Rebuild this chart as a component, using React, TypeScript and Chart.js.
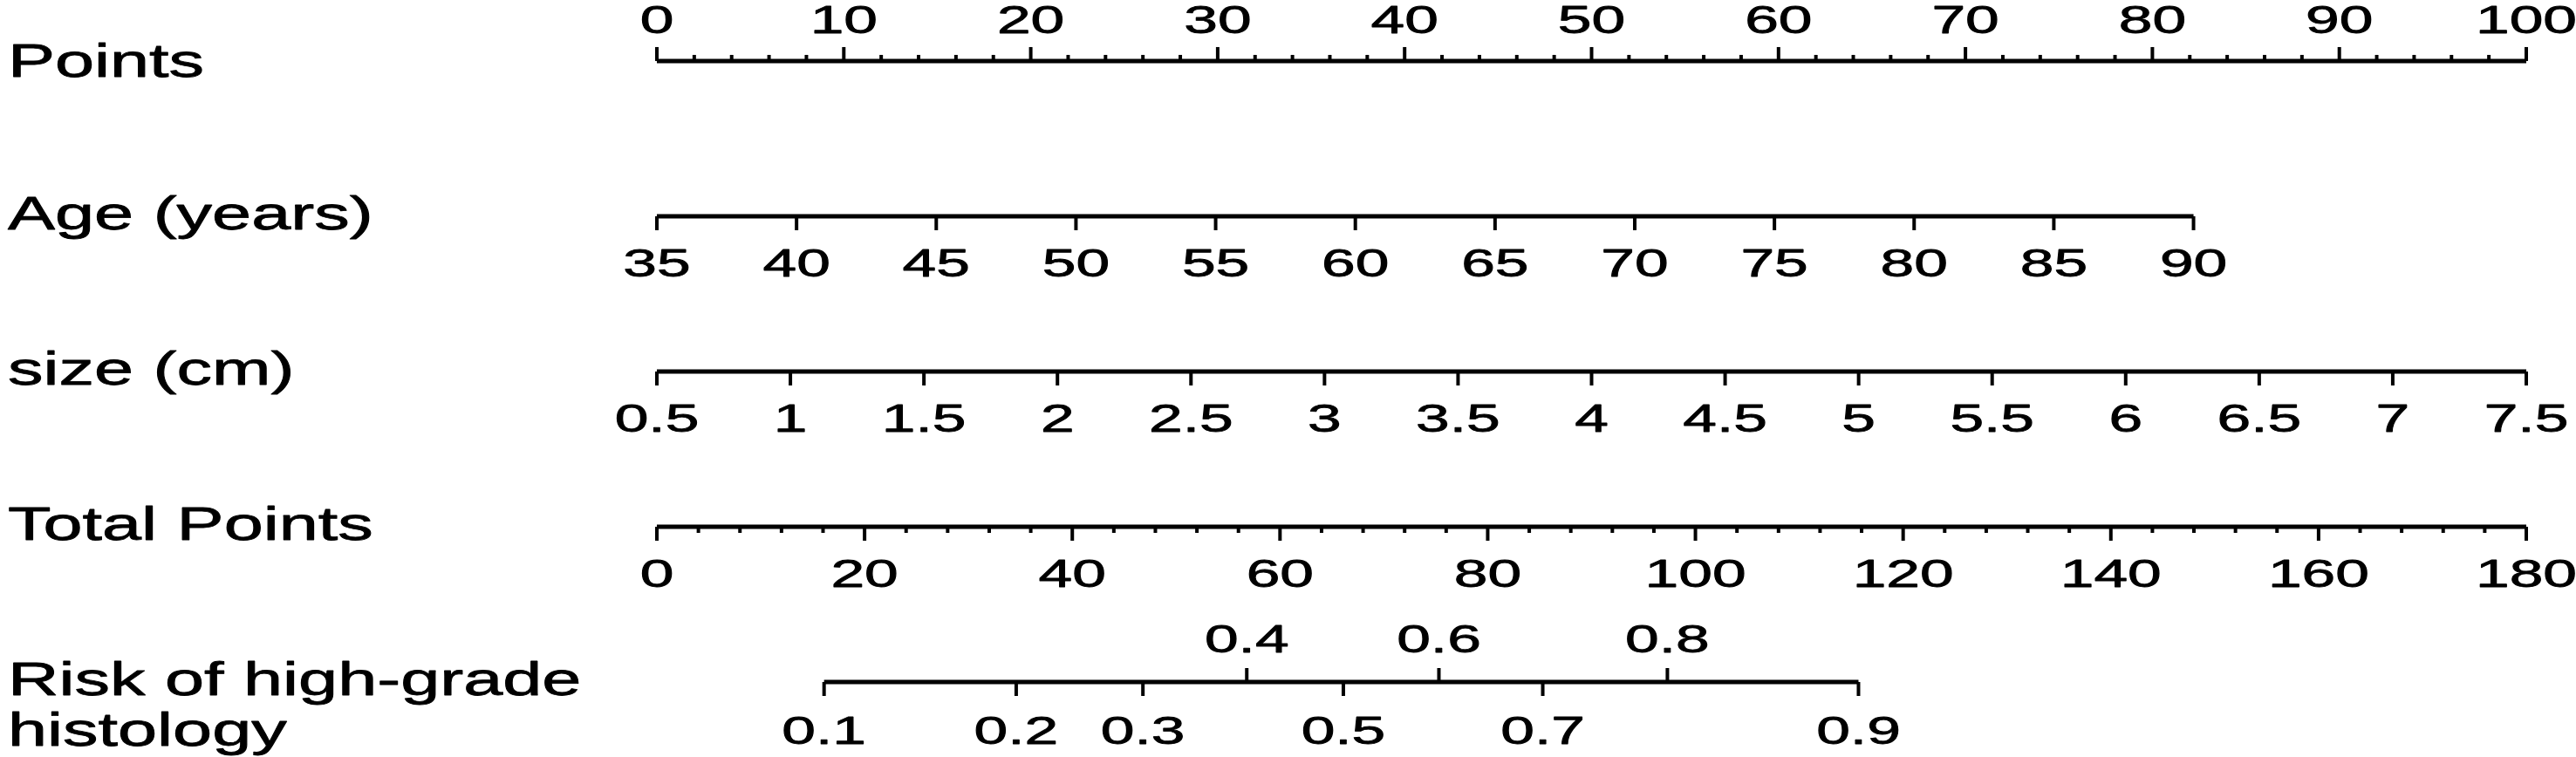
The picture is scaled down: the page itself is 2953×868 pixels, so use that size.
import React, { useEffect, useRef } from "react";
import { Chart, registerables } from "chart.js";

Chart.register(...registerables);

// ---- Data ----
const rowLabels = ["Points", "Age (years)", "size (cm)", "Total Points"];
const riskLabelLines = ["Risk of high-grade", "histology"];

const pointsTicks = [0, 10, 20, 30, 40, 50, 60, 70, 80, 90, 100];
const pointsMinorStep = 2;

const ageTicks = [35, 40, 45, 50, 55, 60, 65, 70, 75, 80, 85, 90];
const ageMin = 35;
const ageMax = 90;
const agePointsAtMax = 82.2; // points for age 90

const sizeTicks = [0.5, 1, 1.5, 2, 2.5, 3, 3.5, 4, 4.5, 5, 5.5, 6, 6.5, 7, 7.5];
const sizeMin = 0.5;
const sizeMax = 7.5;
const sizePointsAtMax = 100;

const totalTicks = [0, 20, 40, 60, 80, 100, 120, 140, 160, 180];
const totalMinorStep = 4;
const totalMax = 180;

const riskTicks = [0.1, 0.2, 0.3, 0.4, 0.5, 0.6, 0.7, 0.8, 0.9];
const riskTotalPoints = [16.1, 34.6, 46.8, 56.8, 66.1, 75.3, 85.3, 97.3, 115.7];
const riskAbove = [0.4, 0.6, 0.8];

// ---- helpers mapping each variable to the Points scale ----
const agePts = (a: number) => ((a - ageMin) / (ageMax - ageMin)) * agePointsAtMax;
const sizePts = (s: number) => ((s - sizeMin) / (sizeMax - sizeMin)) * sizePointsAtMax;
const totalPts = (t: number) => (t / totalMax) * 100;

const TICK_FONT = 44;
const TICK_STRETCH = 1.58;
const LABEL_FONT = 54;
const LABEL_STRETCH = 1.5;
const FONT_FAMILY = '"Liberation Sans", Arial, Helvetica, sans-serif';

function drawText(
  ctx: CanvasRenderingContext2D,
  text: string,
  x: number,
  y: number,
  size: number,
  stretch: number,
  align: CanvasTextAlign
) {
  ctx.save();
  ctx.translate(x, y);
  ctx.scale(stretch, 1);
  ctx.font = `${size}px ${FONT_FAMILY}`;
  ctx.fillStyle = "#000";
  ctx.strokeStyle = "#000";
  ctx.lineWidth = 0.8;
  ctx.lineJoin = "round";
  ctx.textAlign = align;
  ctx.textBaseline = "middle";
  ctx.fillText(text, 0, 0);
  ctx.strokeText(text, 0, 0);
  ctx.restore();
}

const nomogramPlugin = {
  id: "nomogram",
  afterDatasetsDraw(chart: any) {
    const ctx: CanvasRenderingContext2D = chart.ctx;
    const xs = chart.scales.x;
    const ys = chart.scales.y;
    const px = (v: number) => xs.getPixelForValue(v);
    const py = (r: number) => ys.getPixelForValue(r);
    const MAJOR = 16;
    const MINOR = 7;
    const ABOVE = 44;
    const BELOW = 57;

    ctx.save();
    ctx.strokeStyle = "#000";
    ctx.lineCap = "butt";

    const tick = (x: number, y: number, len: number) => {
      ctx.lineWidth = 4;
      ctx.beginPath();
      ctx.moveTo(x, y);
      ctx.lineTo(x, y + len);
      ctx.stroke();
    };

    // Row 0: Points (ticks up, labels above)
    const y0 = py(0);
    for (let v = 0; v <= 100 + 1e-9; v += pointsMinorStep) {
      const isMajor = pointsTicks.includes(Math.round(v));
      tick(px(v), y0, isMajor ? -MAJOR : -MINOR);
    }
    pointsTicks.forEach((v) => drawText(ctx, String(v), px(v), y0 - ABOVE, TICK_FONT, TICK_STRETCH, "center"));

    // Row 1: Age
    const y1 = py(1);
    ageTicks.forEach((a) => {
      tick(px(agePts(a)), y1, MAJOR);
      drawText(ctx, String(a), px(agePts(a)), y1 + BELOW, TICK_FONT, TICK_STRETCH, "center");
    });

    // Row 2: size
    const y2 = py(2);
    sizeTicks.forEach((s) => {
      tick(px(sizePts(s)), y2, MAJOR);
      drawText(ctx, String(s), px(sizePts(s)), y2 + BELOW, TICK_FONT, TICK_STRETCH, "center");
    });

    // Row 3: Total points
    const y3 = py(3);
    for (let t = 0; t <= totalMax + 1e-9; t += totalMinorStep) {
      const isMajor = totalTicks.includes(Math.round(t));
      tick(px(totalPts(t)), y3, isMajor ? MAJOR : MINOR);
    }
    totalTicks.forEach((t) => drawText(ctx, String(t), px(totalPts(t)), y3 + BELOW, TICK_FONT, TICK_STRETCH, "center"));

    // Row 4: Risk
    const y4 = py(4);
    riskTicks.forEach((r, i) => {
      const x = px(totalPts(riskTotalPoints[i]));
      const up = riskAbove.includes(r);
      tick(x, y4, up ? -MAJOR : MAJOR);
      drawText(ctx, String(r), x, up ? y4 - ABOVE - 2 : y4 + BELOW + 2, TICK_FONT, TICK_STRETCH, "center");
    });

    // Row labels
    const LX = 9;
    rowLabels.forEach((lab, i) => drawText(ctx, lab, LX, py(i) + (i === 0 ? 3 : 0), LABEL_FONT, LABEL_STRETCH, "left"));
    drawText(ctx, riskLabelLines[0], LX, py(4), LABEL_FONT, LABEL_STRETCH, "left");
    drawText(ctx, riskLabelLines[1], LX, py(4) + 58, LABEL_FONT, LABEL_STRETCH, "left");

    ctx.restore();
  },
};

export default function App() {
  const canvasRef = useRef<HTMLCanvasElement | null>(null);

  useEffect(() => {
    document.body.style.margin = "0";
    const canvas = canvasRef.current;
    if (!canvas) return;

    const line = (row: number, from: number, to: number) => ({
      data: [
        { x: from, y: row },
        { x: to, y: row },
      ],
      borderColor: "#000",
      borderWidth: 5,
      pointRadius: 0,
      showLine: true,
      fill: false,
    });

    const chart = new Chart(canvas, {
      type: "scatter",
      data: {
        datasets: [
          line(0, 0, 100),
          line(1, agePts(ageMin), agePts(ageMax)),
          line(2, sizePts(sizeMin), sizePts(sizeMax)),
          line(3, totalPts(0), totalPts(totalMax)),
          line(4, totalPts(riskTotalPoints[0]), totalPts(riskTotalPoints[riskTotalPoints.length - 1])),
        ],
      },
      options: {
        responsive: false,
        devicePixelRatio: 1,
        animation: false,
        layout: { padding: { left: 753, right: 57, top: 0, bottom: 0 } },
        plugins: { legend: { display: false }, tooltip: { enabled: false } },
        scales: {
          x: { type: "linear", min: 0, max: 100, display: false },
          y: { type: "linear", min: -0.393, max: 4.483, reverse: true, display: false },
        },
      },
      plugins: [nomogramPlugin],
    });

    return () => chart.destroy();
  }, []);

  return (
    <div style={{ width: 2953, height: 868, background: "#fff" }}>
      <canvas ref={canvasRef} width={2953} height={868} style={{ display: "block", width: 2953, height: 868 }} />
    </div>
  );
}
